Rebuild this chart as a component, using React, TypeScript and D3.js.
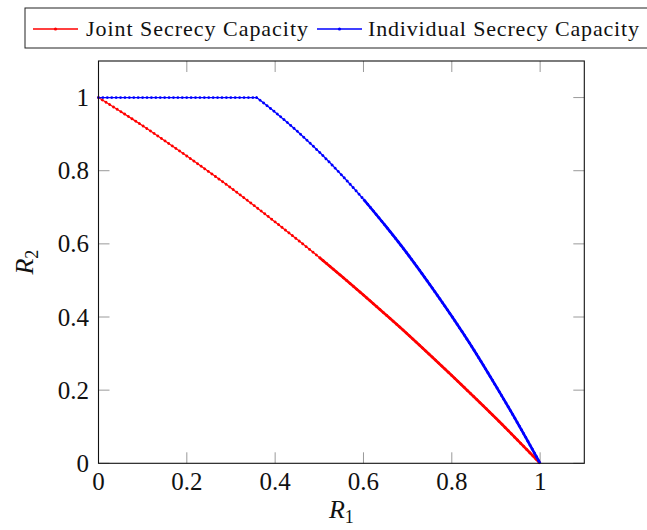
import React from "react";
import { scaleLinear, line, curveMonotoneX, curveLinear } from "d3";

// values
const jointR1 = [0, 0.05, 0.1, 0.15, 0.2, 0.25, 0.3, 0.35, 0.4, 0.45, 0.5, 0.55, 0.6, 0.65, 0.7, 0.75, 0.8, 0.85, 0.9, 0.95, 1];
const jointR2 = [1, 0.962, 0.923, 0.882, 0.84, 0.797, 0.753, 0.707, 0.66, 0.612, 0.563, 0.512, 0.46, 0.407, 0.353, 0.297, 0.24, 0.182, 0.123, 0.062, 0];

const indivFlatR1 = [0, 0.358];
const indivFlatR2 = [1, 1];
const indivR1 = [0.358, 0.4, 0.45, 0.5, 0.55, 0.6, 0.65, 0.7, 0.75, 0.8, 0.85, 0.9, 0.95, 1];
const indivR2 = [1, 0.96, 0.908, 0.851, 0.789, 0.722, 0.649, 0.572, 0.489, 0.402, 0.31, 0.211, 0.108, 0];

const xTicks = [0, 0.2, 0.4, 0.6, 0.8, 1];
const yTicks = [0, 0.2, 0.4, 0.6, 0.8, 1];
const tickLabels = ["0", "0.2", "0.4", "0.6", "0.8", "1"];

const legendNames = ["Joint Secrecy Capacity", "Individual Secrecy Capacity"];
const legendColors = ["#ff0000", "#0000ff"];

const FONT = "'Liberation Serif', 'DejaVu Serif', serif";

function zip(a: number[], b: number[]): [number, number][] {
  return a.map((v, i) => [v, b[i]]);
}

// marks get packed tighter towards (1,0), so the line turns solid there
function Series({ d, dense, color }: { d: string; dense: string; color: string }) {
  return (
    <g>
      <path d={d} fill="none" stroke={color} strokeWidth={1.3} />
      <path
        d={d}
        fill="none"
        stroke={color}
        strokeWidth={2.8}
        strokeLinecap="round"
        strokeDasharray="0.01 4.4"
      />
      <path d={dense} fill="none" stroke={color} strokeWidth={2.7} />
    </g>
  );
}

export default function App() {
  const left = 98.5;
  const right = 584.3;
  const top = 61;
  const bottom = 463.3;
  const x = scaleLinear().domain([0, 1.1]).range([left, right]);
  const y = scaleLinear().domain([0, 1.1]).range([bottom, top]);
  const tickLen = 11;

  const smooth = line<[number, number]>()
    .x((p) => x(p[0]))
    .y((p) => y(p[1]))
    .curve(curveMonotoneX);
  const straight = line<[number, number]>()
    .x((p) => x(p[0]))
    .y((p) => y(p[1]))
    .curve(curveLinear);

  const joint = zip(jointR1, jointR2);
  const indiv = zip(indivR1, indivR2);
  const jointPath = smooth(joint) || "";
  const indivPath =
    (straight(zip(indivFlatR1, indivFlatR2)) || "") + (smooth(indiv) || "");
  const jointDense = smooth(joint.filter((p) => p[0] >= 0.5)) || "";
  const indivDense = smooth(indiv.filter((p) => p[0] >= 0.6)) || "";

  // legend layout
  const legendItems = [
    { lx: 33, tx: 86, tw: 222 },
    { lx: 317, tx: 368, tw: 271 },
  ];

  return (
    <svg
      width={647}
      height={530}
      style={{ position: "absolute", left: 0, top: 0, background: "white" }}
    >
      {/* ticks on all four sides */}
      <g stroke="#9a9a9a" strokeWidth={1}>
        {xTicks.map((t, i) => (
          <g key={"xt" + i}>
            <line x1={x(t)} x2={x(t)} y1={bottom} y2={bottom - tickLen} />
            <line x1={x(t)} x2={x(t)} y1={top} y2={top + tickLen} />
          </g>
        ))}
        {yTicks.map((t, i) => (
          <g key={"yt" + i}>
            <line x1={left} x2={left + tickLen} y1={y(t)} y2={y(t)} />
            <line x1={right} x2={right - tickLen} y1={y(t)} y2={y(t)} />
          </g>
        ))}
      </g>

      <Series d={jointPath} dense={jointDense} color={legendColors[0]} />
      <Series d={indivPath} dense={indivDense} color={legendColors[1]} />

      <rect
        x={left}
        y={top}
        width={right - left}
        height={bottom - top}
        fill="none"
        stroke="#111"
        strokeWidth={1.1}
      />

      {/* tick labels */}
      <g fontFamily={FONT} fontSize={25} fill="#111">
        {xTicks.map((t, i) => (
          <text key={"xl" + i} x={x(t)} y={490} textAnchor="middle">
            {tickLabels[i]}
          </text>
        ))}
        {yTicks.map((t, i) => (
          <text key={"yl" + i} x={89} y={y(t)} dy="0.34em" textAnchor="end">
            {tickLabels[i]}
          </text>
        ))}
      </g>

      {/* axis labels */}
      <text
        x={(left + right) / 2}
        y={518}
        textAnchor="middle"
        fontFamily={FONT}
        fontSize={26}
        fill="#111"
      >
        <tspan fontStyle="italic">R</tspan>
        <tspan fontSize={18} dy={5}>1</tspan>
      </text>
      <text
        transform={`translate(33, ${(top + bottom) / 2}) rotate(-90)`}
        textAnchor="middle"
        fontFamily={FONT}
        fontSize={26}
        fill="#111"
      >
        <tspan fontStyle="italic">R</tspan>
        <tspan fontSize={18} dy={5}>2</tspan>
      </text>

      {/* legend */}
      <rect x={25} y={8} width={624} height={40} fill="white" stroke="#222" strokeWidth={1} />
      {legendItems.map((it, i) => (
        <g key={"lg" + i}>
          <line x1={it.lx} x2={it.lx + 45} y1={29} y2={29} stroke={legendColors[i]} strokeWidth={1.3} />
          <circle cx={it.lx + 22.5} cy={29} r={1.6} fill={legendColors[i]} />
          <text
            x={it.tx}
            y={35.5}
            fontFamily={FONT}
            fontSize={22}
            fill="#111"
            textLength={it.tw}
            lengthAdjust="spacing"
          >
            {legendNames[i]}
          </text>
        </g>
      ))}
    </svg>
  );
}
